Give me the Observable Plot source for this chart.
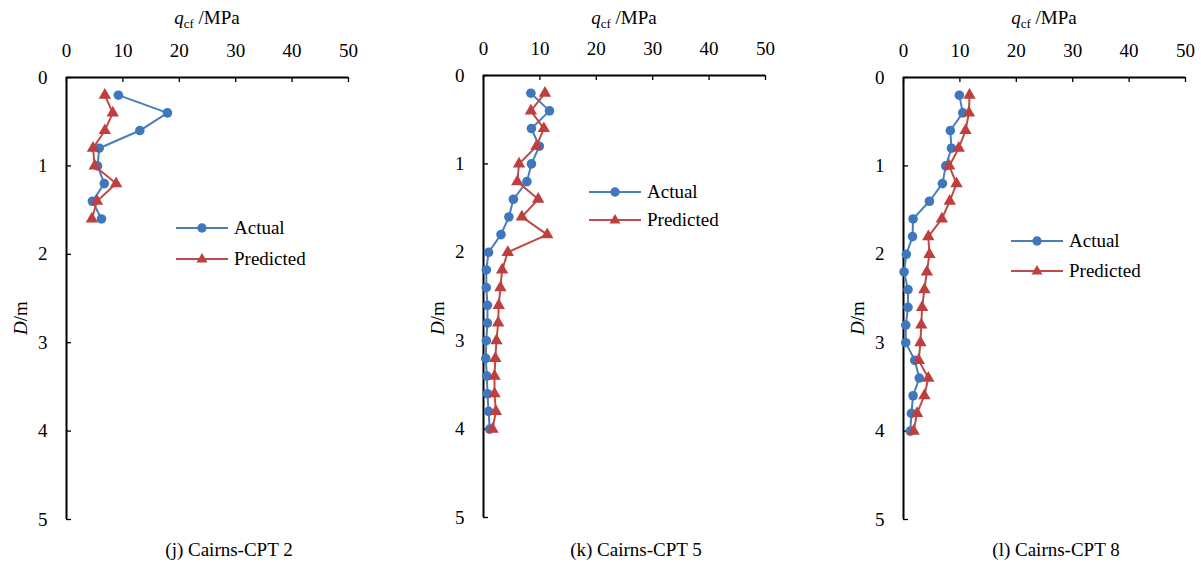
<!DOCTYPE html>
<html>
<head>
<meta charset="utf-8">
<script src="https://cdn.jsdelivr.net/npm/d3@7"></script>
<script src="https://cdn.jsdelivr.net/npm/@observablehq/plot@0.6"></script>
<style>
  html, body { margin: 0; padding: 0; background: #fff; }
  #root { position: relative; width: 1201px; height: 571px; overflow: hidden; background: #fff;
          font-family: "Liberation Serif", "Times New Roman", serif; color: #000; }
  #root svg text { font-family: "Liberation Serif", "Times New Roman", serif !important; }
  .abs { position: absolute; white-space: nowrap; }
  .title { font-size: 19px; text-align: center; width: 200px; }
  .title sub { font-size: 13px; vertical-align: -4px; line-height: 0; }
  .ylab { font-size: 19px; transform: translate(-50%, -50%) rotate(-90deg); }
  .caption { font-size: 19px; text-align: center; width: 260px; }
  .legend { font-size: 19px; display: flex; align-items: center; }
  .legend svg { display: block; margin-right: 6px; }
</style>
</head>
<body>
<div id="root"></div>
<script>
// ---- data ----
const xTicks = [0, 10, 20, 30, 40, 50];
const yTicks = [0, 1, 2, 3, 4, 5];
const seriesNames = ["Actual", "Predicted"];
const captions = ["(j) Cairns-CPT 2", "(k) Cairns-CPT 5", "(l) Cairns-CPT 8"];

const depth2 = [0.2, 0.4, 0.6, 0.8, 1.0, 1.2, 1.4, 1.6];
const actual2 = [9.2, 17.9, 13.0, 5.8, 5.5, 6.7, 4.6, 6.2];
const predicted2 = [6.8, 8.2, 6.8, 4.7, 5.0, 8.8, 5.4, 4.5];

const depth5 = [0.2, 0.4, 0.6, 0.8, 1.0, 1.2, 1.4, 1.6, 1.8, 2.0, 2.2, 2.4, 2.6, 2.8, 3.0, 3.2, 3.4, 3.6, 3.8, 4.0];
const actual5 = [8.4, 11.7, 8.5, 9.9, 8.5, 7.7, 5.3, 4.5, 3.1, 0.9, 0.5, 0.5, 0.7, 0.7, 0.5, 0.4, 0.6, 0.7, 0.9, 1.1];
const predicted5 = [10.9, 8.4, 10.7, 9.4, 6.3, 6.0, 9.7, 6.8, 11.3, 4.3, 3.3, 3.0, 2.7, 2.6, 2.3, 2.1, 1.95, 1.95, 2.2, 1.6];

const depth8 = [0.2, 0.4, 0.6, 0.8, 1.0, 1.2, 1.4, 1.6, 1.8, 2.0, 2.2, 2.4, 2.6, 2.8, 3.0, 3.2, 3.4, 3.6, 3.8, 4.0];
const actual8 = [9.9, 10.5, 8.3, 8.5, 7.5, 6.9, 4.6, 1.7, 1.6, 0.5, 0.1, 0.8, 0.8, 0.4, 0.4, 2.0, 2.8, 1.7, 1.4, 1.2];
const predicted8 = [11.7, 11.6, 11.0, 9.8, 8.1, 9.4, 8.2, 6.8, 4.4, 4.6, 4.15, 3.7, 3.3, 3.15, 3.0, 2.7, 4.4, 3.7, 2.4, 1.8];

// ---- styles / layout ----
const BLUE = "#4A7EBB", BLUE_M = "#3F77BC";
const RED = "#BE4B48", RED_M = "#BE3F3D";
const FONT = "'Liberation Serif', 'Times New Roman', serif";

const panels = [
  {depth: depth2, actual: actual2, pred: predicted2, left: 0, x0: 66, top: 77, bottom: 519,
   legend: {x: 176, y1: 228, y2: 259}, caption: captions[0], capX: 229},
  {depth: depth5, actual: actual5, pred: predicted5, left: 417, x0: 483, top: 75, bottom: 517,
   legend: {x: 589, y1: 192, y2: 220}, caption: captions[1], capX: 636},
  {depth: depth8, actual: actual8, pred: predicted8, left: 837, x0: 903, top: 77, bottom: 519,
   legend: {x: 1011, y1: 241, y2: 271}, caption: captions[2], capX: 1056}
];

const root = document.getElementById("root");
const PW = 420, PLOTW = 282, H = 571;

function legendItem(x, y, name, color, mcolor, symbol) {
  const div = document.createElement("div");
  div.className = "abs legend";
  div.style.left = x + "px";
  div.style.top = (y - 12) + "px";
  div.style.height = "24px";
  const marker = symbol === "circle"
    ? `<circle cx="26" cy="12" r="4.7" fill="${mcolor}"/>`
    : `<path d="M26,6 L31.5,15.5 L20.5,15.5 Z" fill="${mcolor}"/>`;
  div.innerHTML = `<svg width="52" height="24"><line x1="0" x2="52" y1="12" y2="12" stroke="${color}" stroke-width="2"/>${marker}</svg><span>${name}</span>`;
  root.appendChild(div);
}

for (const p of panels) {
  const data = p.depth.map((d, i) => ({d, actual: p.actual[i], pred: p.pred[i]}));
  const ml = p.x0 - p.left;
  const chart = Plot.plot({
    width: PW, height: H,
    marginTop: p.top, marginBottom: H - p.bottom,
    marginLeft: ml, marginRight: PW - ml - PLOTW,
    style: {fontFamily: FONT, fontSize: "19px", background: "transparent", color: "#000", overflow: "visible"},
    x: {domain: [0, 50]},
    y: {domain: [0, 5], reverse: true},
    marks: [
      Plot.axisX(xTicks, {anchor: "top", tickSize: 0, tickPadding: 21, label: null, fontSize: 19, tickFormat: d => String(d)}),
      Plot.axisY(yTicks, {anchor: "left", tickSize: 0, tickPadding: 19, label: null, fontSize: 19, tickFormat: d => String(d)}),
      Plot.ruleX(xTicks, {x: d => d, y1: d => 0, y2: d => 0, insetBottom: -5, stroke: "#000", strokeWidth: 1.3}),
      Plot.ruleY(yTicks, {y: d => d, x1: d => 0, x2: d => 0, insetRight: -5, stroke: "#000", strokeWidth: 1.3}),
      Plot.ruleY([0], {stroke: "#000", strokeWidth: 2}),
      Plot.ruleX([0], {stroke: "#000", strokeWidth: 2}),
      Plot.line(data, {x: "actual", y: "d", stroke: BLUE, strokeWidth: 2}),
      Plot.dot(data, {x: "actual", y: "d", r: 4.8, fill: BLUE_M, stroke: "none"}),
      Plot.line(data, {x: "pred", y: "d", stroke: RED, strokeWidth: 2}),
      Plot.dot(data, {x: "pred", y: "d", symbol: "triangle", r: 4.6, fill: RED_M, stroke: "none"})
    ]
  });
  chart.style.position = "absolute";
  chart.style.left = p.left + "px";
  chart.style.top = "0px";
  root.appendChild(chart);

  // x-axis title
  const t = document.createElement("div");
  t.className = "abs title";
  t.style.left = (p.x0 + PLOTW / 2 - 100) + "px";
  t.style.top = "7px";
  t.innerHTML = `<i>q</i><sub>cf</sub> /MPa`;
  root.appendChild(t);

  // y-axis title
  const yl = document.createElement("div");
  yl.className = "abs ylab";
  yl.style.left = (p.x0 - 45) + "px";
  yl.style.top = "318px";
  yl.innerHTML = `<i>D</i>/m`;
  root.appendChild(yl);

  // legend
  legendItem(p.legend.x, p.legend.y1, seriesNames[0], BLUE, BLUE_M, "circle");
  legendItem(p.legend.x, p.legend.y2, seriesNames[1], RED, RED_M, "triangle");

  // caption
  const c = document.createElement("div");
  c.className = "abs caption";
  c.style.left = (p.capX - 130) + "px";
  c.style.top = "539px";
  c.textContent = p.caption;
  root.appendChild(c);
}
</script>
</body>
</html>
